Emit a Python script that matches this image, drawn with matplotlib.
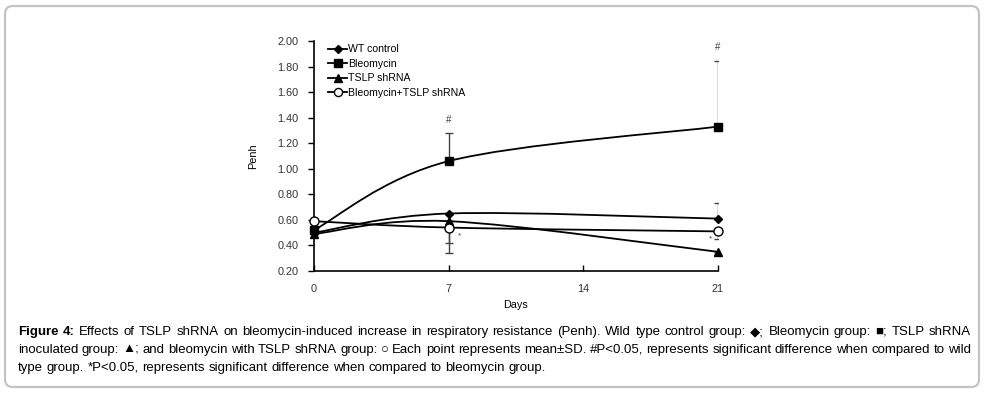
import numpy as np
import matplotlib
matplotlib.use("Agg")
import matplotlib.pyplot as plt
from matplotlib.path import Path
from matplotlib.patches import PathPatch, FancyBboxPatch
from matplotlib.transforms import IdentityTransform
from matplotlib.lines import Line2D

plt.rcParams['font.family'] = ['Liberation Sans', 'DejaVu Sans']

days = [0, 7, 21]
wt_control = [0.50, 0.65, 0.61]
bleomycin = [0.52, 1.06, 1.33]
tslp_shrna = [0.49, 0.59, 0.35]
bleo_tslp = [0.59, 0.54, 0.51]

# error bars (one-sided, as drawn)
wt_err_up = [0.0, 0.0, 0.12]
bleo_err_up = [0.0, 0.22, 0.51]
tslp_err_dn = [0.0, 0.17, 0.02]
bt_err_dn = [0.0, 0.20, 0.06]

yticks = [0.20, 0.40, 0.60, 0.80, 1.00, 1.20, 1.40, 1.60, 1.80, 2.00]
xticks = [0, 7, 14, 21]

caption_bold = "Figure 4:"
caption_lines = [
    "Effects of TSLP shRNA on bleomycin-induced increase in respiratory resistance (Penh). Wild type control group: \u25c6; Bleomycin group: \u25a0; TSLP shRNA",
    "inoculated group: \u25b2; and bleomycin with TSLP shRNA group: \u25cb Each point represents mean\u00b1SD. #P<0.05, represents significant difference when compared to wild",
    "type group. *P<0.05, represents significant difference when compared to bleomycin group.",
]

cap_family = ['Liberation Sans', 'DejaVu Sans']
cap_size = 9.5

W, H = 985, 397
fig = plt.figure(figsize=(W / 100, H / 100), dpi=100)

# border
border = FancyBboxPatch((5 / W, 10 / H), 974 / W, 381 / H,
                        boxstyle="round,pad=0,rounding_size=0.008",
                        transform=fig.transFigure, fill=False,
                        edgecolor='#c4c4c4', linewidth=1.6, mutation_aspect=W / H)
fig.patches.append(border)

ax = fig.add_axes([314 / W, 1 - 271 / H, 404 / W, 230 / H])
ax.set_xlim(0, 21)
ax.set_ylim(0.2, 2.0)
ax.spines['top'].set_visible(False)
ax.spines['right'].set_visible(False)
for s in ('left', 'bottom'):
    ax.spines[s].set_linewidth(1.2)
ax.set_yticks(yticks)
ax.set_yticklabels([f"{v:.2f}" for v in yticks], fontsize=7.8)
ax.set_xticks(xticks)
ax.set_xticklabels([str(v) for v in xticks], fontsize=7.8)
ax.tick_params(axis='y', direction='out', length=4, width=1, pad=7)
ax.tick_params(axis='x', direction='in', length=4, width=1, pad=9)
ax.set_xlabel("Days", fontsize=7.8, labelpad=5)
ax.set_ylabel("Penh", fontsize=7.8, labelpad=14)
for t in ax.get_xticklabels() + ax.get_yticklabels():
    t.set_color('#333333')

fig.canvas.draw()


def smooth_path(xs, ys):
    pts = ax.transData.transform(np.column_stack([xs, ys]))
    n = len(pts)
    verts = [pts[0]]
    codes = [Path.MOVETO]
    for i in range(n - 1):
        p0 = pts[i - 1] if i > 0 else pts[i]
        p1 = pts[i]
        p2 = pts[i + 1]
        p3 = pts[i + 2] if i + 2 < n else pts[i + 1]
        c1 = p1 + (p2 - p0) / 6.0
        c2 = p2 - (p3 - p1) / 6.0
        verts += [c1, c2, p2]
        codes += [Path.CURVE4] * 3
    return Path(verts, codes)


series = [
    (wt_control, 'D', 'black', 4.5, "WT control"),
    (bleomycin, 's', 'black', 6, "Bleomycin"),
    (tslp_shrna, '^', 'black', 6, "TSLP shRNA"),
    (bleo_tslp, 'o', 'white', 6.5, "Bleomycin+TSLP shRNA"),
]

# error bars
ecol = '#444444'
ax.errorbar(days, wt_control, yerr=[np.zeros(3), wt_err_up], fmt='none', ecolor=ecol, elinewidth=1, capsize=3)
ax.errorbar(days, bleomycin, yerr=[np.zeros(3), bleo_err_up], fmt='none', ecolor=ecol, elinewidth=1, capsize=3)
ax.errorbar(days, tslp_shrna, yerr=[tslp_err_dn, np.zeros(3)], fmt='none', ecolor=ecol, elinewidth=1, capsize=3)
ax.errorbar(days, bleo_tslp, yerr=[bt_err_dn, np.zeros(3)], fmt='none', ecolor=ecol, elinewidth=1, capsize=3)

handles = []
for vals, mk, fc, ms, lab in series:
    p = smooth_path(days, vals)
    ax.add_patch(PathPatch(p, transform=IdentityTransform(), fill=False,
                           edgecolor='black', linewidth=1.3, zorder=3))
    ax.plot(days, vals, linestyle='none', marker=mk, markersize=ms,
            markerfacecolor=fc, markeredgecolor='black', markeredgewidth=1, zorder=4,
            clip_on=False)
    handles.append(Line2D([], [], color='black', linewidth=1.3, marker=mk,
                          markersize=ms * 0.9, markerfacecolor=fc, markeredgecolor='black',
                          label=lab))

leg = ax.legend(handles=handles, loc='upper left', bbox_to_anchor=(0.02, 1.013),
                frameon=False, fontsize=7.6, handlelength=1.75, handletextpad=0.1,
                labelspacing=0.42, borderaxespad=0.2)

# significance marks
ax.text(7, 1.38, "#", ha='center', va='center', fontsize=7, color='#444444')
ax.text(21, 1.95, "#", ha='center', va='center', fontsize=7, color='#444444')
ax.text(7.55, 0.475, "*", ha='center', va='center', fontsize=6, color='#444444')
ax.text(20.6, 0.455, "*", ha='center', va='center', fontsize=6, color='#444444')

# caption (justified first two lines)
renderer = fig.canvas.get_renderer()
left_px, right_px = 18, 971


def place_words(words, x_start, y_px, justify, first_bold=False):
    arts = []
    widths = []
    for k, w in enumerate(words):
        bold = first_bold and k < 2
        t = fig.text(0, 0, w, fontsize=cap_size, va='baseline', ha='left', family=cap_family,
                     fontweight='bold' if bold else 'normal')
        arts.append(t)
        widths.append(t.get_window_extent(renderer).width)
    sp = fig.text(0, 0, "a a", fontsize=cap_size, family=cap_family)
    aa = fig.text(0, 0, "aa", fontsize=cap_size, family=cap_family)
    space_w = sp.get_window_extent(renderer).width - aa.get_window_extent(renderer).width
    sp.remove()
    aa.remove()
    if justify and len(words) > 1:
        gap = (right_px - x_start - sum(widths)) / (len(words) - 1)
    else:
        gap = space_w
    x = x_start
    for t, w in zip(arts, widths):
        t.set_position((x / W, 1 - y_px / H))
        x += w + gap


place_words(caption_bold.split() + caption_lines[0].split(), left_px, 335, True, first_bold=True)
place_words(caption_lines[1].split(), left_px, 353, True)
place_words(caption_lines[2].split(), left_px, 371, False)

fig.savefig("out.png", dpi=100)
